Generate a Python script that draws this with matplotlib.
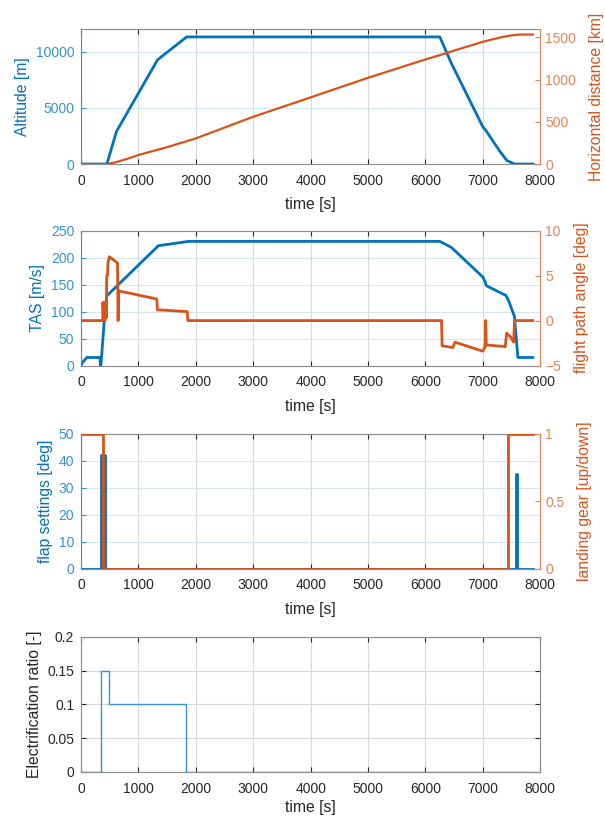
import numpy as np
import matplotlib
matplotlib.use('Agg')
import matplotlib.pyplot as plt

# Data
alt_t = [0, 450, 617, 1333, 1840, 6250, 6450, 7000, 7050, 7300, 7420, 7550, 7870]
alt_v = [0, 0, 2900, 9270, 11300, 11300, 8970, 3300, 3000, 1100, 300, 0, 0]

dist_t = [0, 450, 600, 800, 1000, 1500, 2000, 3000, 4000, 5000, 6000, 6350, 6500,
          7000, 7300, 7500, 7650, 7870]
dist_v = [0, 0, 20, 60, 107, 200, 304, 560, 790, 1022, 1240, 1311, 1345,
          1449, 1500, 1525, 1535, 1535]

tas_t = [0, 20, 100, 330, 335, 345, 406, 447, 1347, 1870, 6250, 6450, 7000, 7040,
         7060, 7400, 7450, 7550, 7610, 7870]
tas_v = [0, 5, 15, 15, 0, 0, 85, 129, 222, 230, 230, 219, 164, 155,
         148, 130, 120, 91, 15, 15]

fpa_t = [0, 377, 380, 395, 400, 415, 430, 440, 447, 460, 470, 494, 635, 645, 655,
         1318, 1330, 1850, 1860, 6280, 6290, 6475, 6515, 6998, 7040, 7050, 7060,
         7390, 7415, 7480, 7535, 7553, 7870]
fpa_v = [0, 0, 2.0, 0.2, 2.0, 0, 2.0, 0.3, 5.0, 5.0, 6.5, 7.1, 6.4, 0, 3.3,
         2.4, 1.2, 1.0, 0, 0, -2.8, -3.0, -2.4, -3.4, -2.9, 0, -2.7,
         -2.9, -1.4, -1.8, -2.4, 0, 0]

flap_t = [0, 343, 418, 7570, 7592, 7870]
flap_v = [0, 42, 0, 35, 0, 0]

gear_t = [0, 380, 7445, 7870]
gear_v = [1, 0, 1, 1]

elec_t = [0, 343, 494, 1835, 7870]
elec_v = [0, 0.15, 0.1, 0, 0]

blue = '#0072BD'
blue_l = '#3592D4'
orange = '#D95319'
orange_l = '#E8835A'
dark = '#262626'

plt.rcParams['font.family'] = ['Liberation Sans', 'DejaVu Sans']
plt.rcParams['xtick.direction'] = 'in'
plt.rcParams['ytick.direction'] = 'in'

fig = plt.figure(figsize=(6.05, 8.16), dpi=100)

left, width, height = 0.134, 0.759, 0.1654
bottoms = [0.799, 0.552, 0.303, 0.054]
tsize = 10


def style_x(ax, lpad=7):
    ax.set_xlim(0, 8000)
    ax.set_xticks(np.arange(0, 8001, 1000))
    ax.tick_params(axis='x', colors=dark, labelsize=tsize, length=3.5, top=True, pad=7)
    ax.set_xlabel('time [s]', fontsize=11.3, color=dark, labelpad=lpad)
    ax.grid(axis='x', color='#d8d8d8', lw=0.8)
    ax.spines['top'].set_color('#8a8a8a')
    ax.spines['bottom'].set_color('#8a8a8a')


def two_axes(bottom, lt, lv, rt, rv, llim, lticks, rlim, rticks, llab, rlab,
             lw_left=2.0, lw_right=2.0, steps=False):
    ax = fig.add_axes([left, bottom, width, height])
    ds = 'steps-post' if steps else 'default'
    ax.plot(lt, lv, color=blue, lw=lw_left, drawstyle=ds)
    style_x(ax)
    ax.set_ylim(*llim)
    ax.set_yticks(lticks)
    ax.grid(axis='y', color='#d3e6f4', lw=0.8)
    ax.tick_params(axis='y', colors=blue_l, labelsize=tsize, length=3.5, pad=5)
    ax.set_ylabel(llab, color=blue, fontsize=11.3)
    ax.spines['left'].set_color(blue_l)
    ax.spines['right'].set_visible(False)
    ax.set_axisbelow(True)

    ax2 = ax.twinx()
    ax2.plot(rt, rv, color=orange, lw=lw_right, drawstyle=ds)
    ax2.set_ylim(*rlim)
    ax2.set_yticks(rticks)
    ax2.tick_params(axis='y', colors=orange_l, labelsize=tsize, length=3.5)
    ax2.set_ylabel(rlab, color=orange, fontsize=11.3, labelpad=9)
    ax2.spines['right'].set_color(orange_l)
    for s in ['left', 'top', 'bottom']:
        ax2.spines[s].set_visible(False)
    return ax, ax2


# Panel 1
two_axes(bottoms[0], alt_t, alt_v, dist_t, dist_v,
         (0, 12000), [0, 5000, 10000], (0, 1600), [0, 500, 1000, 1500],
         'Altitude [m]', 'Horizontal distance [km]', lw_right=1.6)

# Panel 2
two_axes(bottoms[1], tas_t, tas_v, fpa_t, fpa_v,
         (0, 250), np.arange(0, 251, 50), (-5, 10), [-5, 0, 5, 10],
         'TAS [m/s]', 'flight path angle [deg]')

# Panel 3
ax3, ax3b = two_axes(bottoms[2], flap_t, flap_v, gear_t, gear_v,
                     (0, 50), np.arange(0, 51, 10), (0, 1), [0, 0.5, 1],
                     'flap settings [deg]', 'landing gear [up/down]', steps=True)
ax3b.set_yticklabels(['0', '0.5', '1'])

# Panel 4
ax4 = fig.add_axes([left, bottoms[3], width, height])
ax4.plot(elec_t, elec_v, color=blue_l, lw=1.0, drawstyle='steps-post')
style_x(ax4, lpad=3)
ax4.set_ylim(0, 0.2)
ax4.set_yticks([0, 0.05, 0.1, 0.15, 0.2])
ax4.set_yticklabels(['0', '0.05', '0.1', '0.15', '0.2'])
ax4.grid(axis='y', color='#d8d8d8', lw=0.8)
ax4.tick_params(axis='y', colors=dark, labelsize=tsize, length=3.5, right=True, pad=5)
ax4.set_ylabel('Electrification ratio [-]', color=dark, fontsize=11.3)
for s in ['left', 'right']:
    ax4.spines[s].set_color('#8a8a8a')
ax4.set_axisbelow(True)

fig.savefig('out.png', dpi=100)
